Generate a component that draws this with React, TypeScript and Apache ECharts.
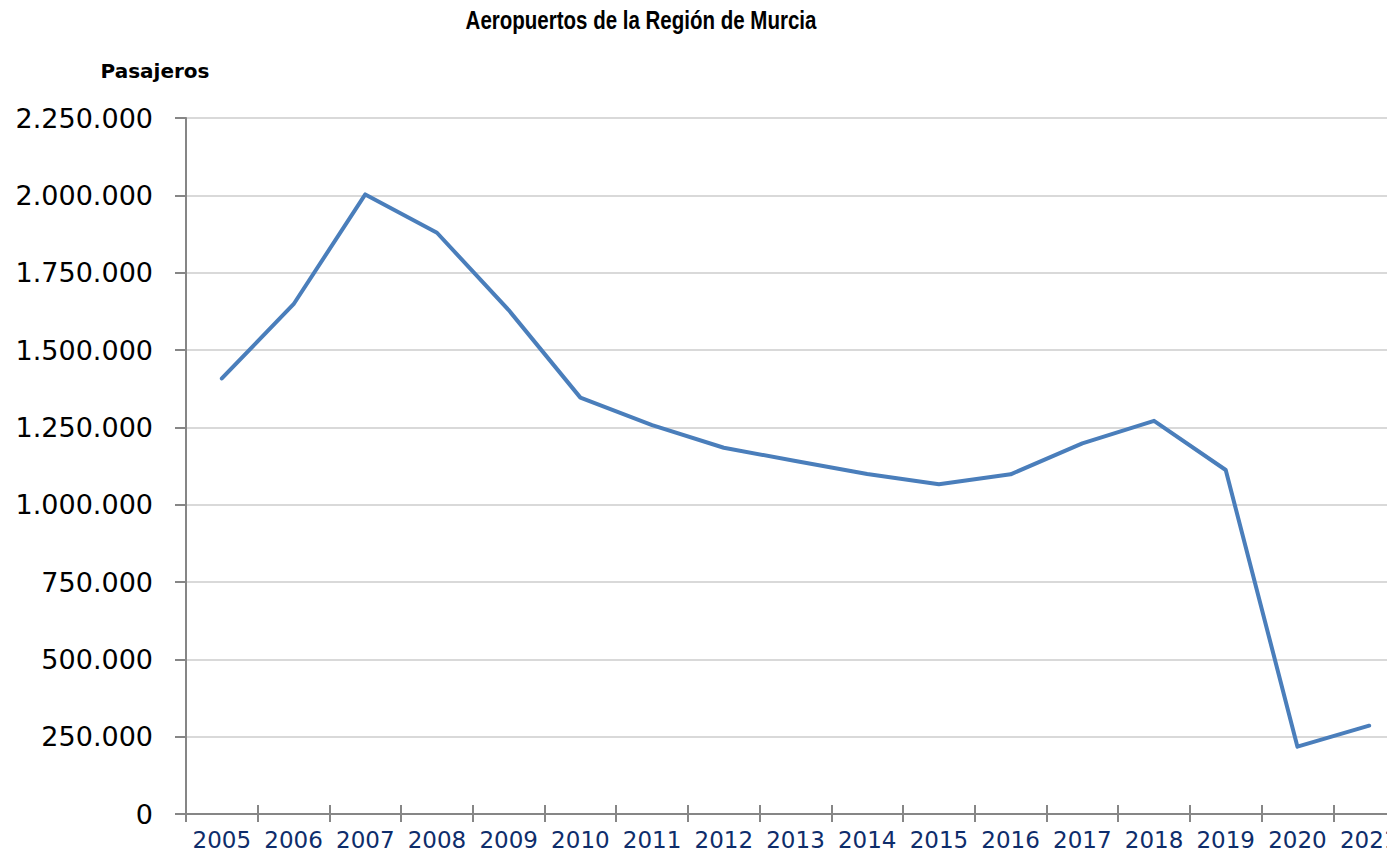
import React, { useEffect, useRef } from "react";
import * as echarts from "echarts";

const titleText = "Aeropuertos de la Región de Murcia";
const yAxisName = "Pasajeros";
const years = ["2005", "2006", "2007", "2008", "2009", "2010", "2011", "2012", "2013", "2014", "2015", "2016", "2017", "2018", "2019", "2020", "2021"];
const passengers = [1408000, 1648000, 2003000, 1879000, 1629000, 1346000, 1257000, 1184000, 1141000, 1099000, 1066000, 1098000, 1198000, 1271000, 1112000, 217600, 285500];
const yMin = 0;
const yMax = 2250000;
const yStep = 250000;

function fmt(v: number): string {
  return String(v).replace(/\B(?=(\d{3})+(?!\d))/g, ".");
}

export default function App() {
  const ref = useRef<HTMLDivElement>(null);
  useEffect(() => {
    if (!ref.current) return;
    const chart = echarts.init(ref.current, undefined, { renderer: "svg" });
    chart.setOption({
      animation: false,
      backgroundColor: "#ffffff",
      grid: { left: 186, top: 118, bottom: 41, right: 0, containLabel: false },
      graphic: [
        {
          type: "text",
          x: 641,
          y: 20,
          scaleX: 0.82,
          style: {
            text: titleText,
            font: "bold 25px 'Liberation Sans', Arial, sans-serif",
            fill: "#000000",
            textAlign: "center",
            textVerticalAlign: "middle",
          },
        },
        {
          type: "text",
          x: 155,
          y: 71,
          style: {
            text: yAxisName,
            font: "bold 20px 'DejaVu Sans', Verdana, sans-serif",
            fill: "#000000",
            textAlign: "center",
            textVerticalAlign: "middle",
          },
        },
      ],
      xAxis: [
        {
          type: "category",
          data: years,
          boundaryGap: true,
          axisLine: { show: true, lineStyle: { color: "#868686", width: 2 } },
          axisTick: { show: true, inside: false, length: 8, lineStyle: { color: "#868686", width: 2 } },
          axisLabel: {
            show: true,
            interval: 0,
            margin: 14,
            color: "#0E2D6B",
            fontFamily: "'DejaVu Sans', Verdana, sans-serif",
            fontSize: 23,
          },
          splitLine: { show: false },
        },
        {
          type: "category",
          data: years,
          position: "bottom",
          boundaryGap: true,
          axisLine: { show: false },
          axisTick: { show: true, inside: true, length: 9, lineStyle: { color: "#868686", width: 2 } },
          axisLabel: { show: false },
          splitLine: { show: false },
        },
      ],
      yAxis: {
        type: "value",
        min: yMin,
        max: yMax,
        interval: yStep,
        axisLine: { show: true, lineStyle: { color: "#868686", width: 2 } },
        axisTick: { show: true, inside: false, length: 11, lineStyle: { color: "#868686", width: 2 } },
        axisLabel: {
          margin: 33,
          color: "#000000",
          fontFamily: "'DejaVu Sans', Verdana, sans-serif",
          fontSize: 27,
          formatter: (v: number) => fmt(v),
        },
        splitLine: { show: true, lineStyle: { color: "#D9D9D9", width: 2 } },
      },
      series: [
        {
          type: "line",
          data: passengers,
          xAxisIndex: 0,
          symbol: "none",
          lineStyle: { color: "#4A7EBB", width: 4, join: "round", cap: "round" },
        },
      ],
    });
    return () => chart.dispose();
  }, []);
  return (
    <div style={{ position: "fixed", left: 0, top: 0, width: 1387, height: 855, overflow: "hidden", background: "#fff" }}>
      <div ref={ref} style={{ position: "absolute", left: 0, top: 0, width: 1405, height: 855 }} />
    </div>
  );
}
